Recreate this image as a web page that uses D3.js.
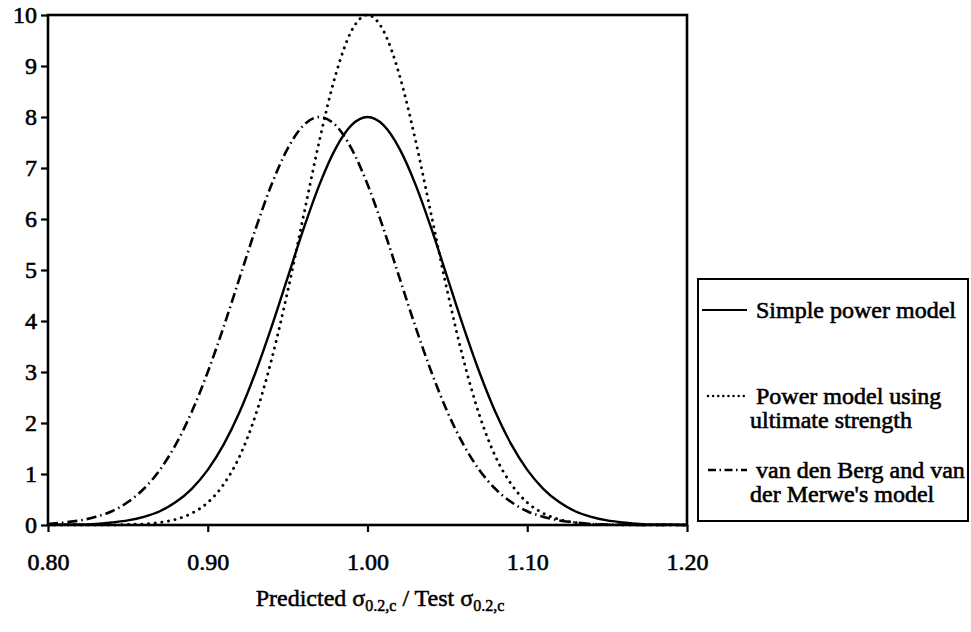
<!DOCTYPE html>
<html>
<head>
<meta charset="utf-8">
<script src="https://cdn.jsdelivr.net/npm/d3@7"></script>
<style>
  html, body { margin: 0; padding: 0; background: #fff; }
  svg { display: block; }
  text { font-family: "Liberation Serif", "Times New Roman", serif; fill: #000; }
</style>
</head>
<body>
<svg id="chart" width="971" height="632"></svg>
<script>
// Ratio of predicted to test 0.2% proof stress, sampled every 0.01
const ratio = [0.80,0.81,0.82,0.83,0.84,0.85,0.86,0.87,0.88,0.89,
               0.90,0.91,0.92,0.93,0.94,0.95,0.96,0.97,0.98,0.99,
               1.00,1.01,1.02,1.03,1.04,1.05,1.06,1.07,1.08,1.09,
               1.10,1.11,1.12,1.13,1.14,1.15,1.16,1.17,1.18,1.19,1.20];

// Probability density for each model
const simplePower = [0.00,0.01,0.01,0.02,0.05,0.09,0.16,0.27,0.45,0.71,
                     1.08,1.58,2.22,3.00,3.89,4.85,5.81,6.68,7.38,7.84,
                     8.00,7.84,7.38,6.68,5.81,4.85,3.89,3.00,2.22,1.58,
                     1.08,0.71,0.45,0.27,0.16,0.09,0.05,0.02,0.01,0.01,0.00];

const powerUltimate = [0.00,0.00,0.00,0.00,0.00,0.01,0.02,0.05,0.11,0.23,
                       0.44,0.80,1.35,2.16,3.25,4.58,6.07,7.55,8.82,9.69,
                       10.00,9.69,8.82,7.55,6.07,4.58,3.25,2.16,1.35,0.80,
                       0.44,0.23,0.11,0.05,0.02,0.01,0.00,0.00,0.00,0.00,0.00];

const vanDenBerg = [0.02,0.05,0.09,0.16,0.27,0.45,0.71,1.08,1.58,2.22,
                    3.00,3.89,4.85,5.81,6.68,7.38,7.84,8.00,7.84,7.38,
                    6.68,5.81,4.85,3.89,3.00,2.22,1.58,1.08,0.71,0.45,
                    0.27,0.16,0.09,0.05,0.02,0.01,0.01,0.00,0.00,0.00,0.00];

const xTicks = [0.80, 0.90, 1.00, 1.10, 1.20];
const yTicks = [0, 1, 2, 3, 4, 5, 6, 7, 8, 9, 10];

const seriesNames = ["Simple power model", "Power model using|ultimate strength", "van den Berg and van|der Merwe's model"];

const FONT = "Liberation Serif";
const svg = d3.select("#chart");
const plotLeft = 48, plotRight = 687, plotTop = 15, plotBottom = 525;

const x = d3.scaleLinear().domain([0.80, 1.20]).range([plotLeft, plotRight]);
const y = d3.scaleLinear().domain([0, 10]).range([plotBottom, plotTop]);

const styles = [
  { dash: null, width: 2.4, cap: "butt" },
  { dash: "0.1 6.6", width: 2.9, cap: "round" },
  { dash: "10 4 1.5 4", width: 2.6, cap: "butt" }
];
const series = [simplePower, powerUltimate, vanDenBerg];

const line = d3.line()
  .x(d => x(d[0]))
  .y(d => y(d[1]))
  .curve(d3.curveMonotoneX);

const curves = svg.append("g");
series.forEach((vals, i) => {
  curves.append("path")
    .attr("d", line(ratio.map((r, k) => [r, vals[k]])))
    .attr("fill", "none")
    .attr("stroke", "#000")
    .attr("stroke-width", styles[i].width)
    .attr("stroke-linecap", styles[i].cap)
    .attr("stroke-dasharray", styles[i].dash);
});

// Axes
const yAxis = svg.append("g")
  .attr("transform", `translate(${plotLeft},0)`)
  .call(d3.axisLeft(y).tickValues(yTicks).tickSize(7).tickPadding(4).tickFormat(d3.format("d")));
const xAxis = svg.append("g")
  .attr("transform", `translate(0,${plotBottom})`)
  .call(d3.axisBottom(x).tickValues(xTicks).tickSize(7).tickPadding(21).tickFormat(d3.format(".2f")));

[yAxis, xAxis].forEach(g => {
  g.attr("font-family", FONT).attr("font-size", 24);
  g.select(".domain").remove();
  g.selectAll(".tick line").attr("stroke", "#000").attr("stroke-width", 2.2);
  g.selectAll(".tick text")
    .attr("font-family", FONT)
    .attr("font-size", 24)
    .attr("fill", "#000")
    .attr("stroke", "#000").attr("stroke-width", 0.6);
});

// Plot frame
svg.append("rect")
  .attr("x", plotLeft).attr("y", plotTop)
  .attr("width", plotRight - plotLeft).attr("height", plotBottom - plotTop)
  .attr("fill", "none").attr("stroke", "#000").attr("stroke-width", 2.6);

// Axis title
const title = svg.append("text")
  .attr("x", 380).attr("y", 606)
  .attr("text-anchor", "middle")
  .attr("font-family", FONT)
  .attr("font-size", 24)
  .attr("stroke", "#000").attr("stroke-width", 0.5);
title.append("tspan").text("Predicted σ");
title.append("tspan").attr("dy", 5).attr("font-size", 16).text("0.2,c");
title.append("tspan").attr("dy", -5).text(" / Test σ");
title.append("tspan").attr("dy", 5).attr("font-size", 16).text("0.2,c");

// Legend
const legend = svg.append("g");
legend.append("rect")
  .attr("x", 698).attr("y", 279).attr("width", 270).attr("height", 242)
  .attr("fill", "#fff").attr("stroke", "#000").attr("stroke-width", 2);

const legendRows = [310, 396, 470];
seriesNames.forEach((name, i) => {
  const ly = legendRows[i];
  legend.append("line")
    .attr("x1", i === 0 ? 702 : 708).attr("x2", 747)
    .attr("y1", ly).attr("y2", ly)
    .attr("stroke", "#000")
    .attr("stroke-width", i === 0 ? 2 : 2.4)
    .attr("stroke-linecap", styles[i].cap)
    .attr("stroke-dasharray", i === 1 ? "0.1 5" : (i === 2 ? "8 3.5 1.5 3.5" : null));
  const parts = name.split("|");
  parts.forEach((p, k) => {
    legend.append("text")
      .attr("x", k === 0 ? 756 : 750)
      .attr("y", ly + 8 + k * 24)
      .attr("font-family", FONT)
      .attr("font-size", 24)
      .attr("stroke", "#000").attr("stroke-width", 0.6)
      .text(p);
  });
});
</script>
</body>
</html>
